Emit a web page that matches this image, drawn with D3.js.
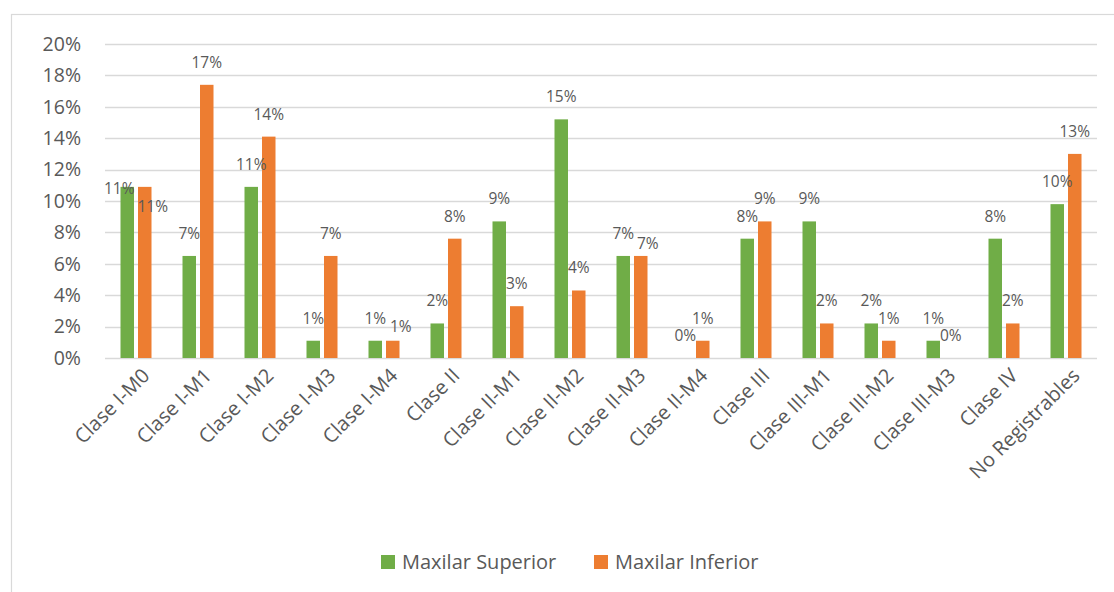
<!DOCTYPE html>
<html>
<head>
<meta charset="utf-8">
<script src="https://cdn.jsdelivr.net/npm/d3@7"></script>
<style>
  html, body { margin: 0; padding: 0; background: #fff; }
  svg { display: block; font-family: "Open Sans", Lato, sans-serif; }
</style>
</head>
<body>
<svg id="chart" width="1114" height="592"></svg>
<script>
const categories = ["Clase I-M0", "Clase I-M1", "Clase I-M2", "Clase I-M3", "Clase I-M4", "Clase II",
  "Clase II-M1", "Clase II-M2", "Clase II-M3", "Clase II-M4", "Clase III", "Clase III-M1",
  "Clase III-M2", "Clase III-M3", "Clase IV", "No Registrables"];
const seriesNames = ["Maxilar Superior", "Maxilar Inferior"];
const superior = [10.9, 6.5, 10.9, 1.1, 1.1, 2.2, 8.7, 15.2, 6.5, 0, 7.6, 8.7, 2.2, 1.1, 7.6, 9.8];
const inferior = [10.9, 17.4, 14.1, 6.5, 1.1, 7.6, 3.3, 4.3, 6.5, 1.1, 8.7, 2.2, 1.1, 0, 2.2, 13.0];
const yTicks = [0, 2, 4, 6, 8, 10, 12, 14, 16, 18, 20];
const colors = ["#70ad47", "#ed7d31"];
// labels that were dragged off their default place in the original
const labelNudge = {
  "Clase I-M0|0": [-8, 24],
  "Clase I-M0|1": [8, 42],
  "Clase I-M4|1": [8, 8],
  "Clase II-M3|1": [7, 10],
};

(function () {
  const svg = d3.select("#chart");
  const textColor = "#595959";
  const gridColor = "#d9d9d9";

  svg.append("rect")
    .attr("x", 11.5).attr("y", 14.5)
    .attr("width", 1120).attr("height", 600)
    .attr("fill", "none").attr("stroke", gridColor).attr("stroke-width", 1.2);

  const x = d3.scaleBand().domain(categories).range([105, 1097]);
  const xInner = d3.scaleBand().domain(seriesNames)
    .range([15.5, x.bandwidth() - 15.5]).paddingInner(0.2286);
  const y = d3.scaleLinear().domain([0, 20]).range([358, 44]);

  const grid = svg.append("g");
  grid.selectAll("line")
    .data(yTicks)
    .join("line")
    .attr("x1", 105).attr("x2", 1097)
    .attr("y1", (d) => Math.round(y(d)) + 0.5)
    .attr("y2", (d) => Math.round(y(d)) + 0.5)
    .attr("stroke", gridColor).attr("stroke-width", 1.3);

  const yAxis = d3.axisLeft(y).tickValues(yTicks).tickFormat((d) => d + "%").tickSize(0).tickPadding(0);
  svg.append("g")
    .attr("transform", "translate(81,0)")
    .call(yAxis)
    .call((g) => g.select(".domain").remove())
    .selectAll("text")
    .attr("fill", textColor)
    .attr("font-size", 19.5)
    .attr("font-family", "'Open Sans', Lato, sans-serif");

  const rows = categories.map((c, i) => ({ cat: c, values: [superior[i], inferior[i]] }));

  const groups = svg.append("g")
    .selectAll("g")
    .data(rows)
    .join("g")
    .attr("transform", (d) => `translate(${x(d.cat)},0)`);

  groups.selectAll("rect")
    .data((d) => d.values.map((v, s) => ({ cat: d.cat, v, s })))
    .join("rect")
    .attr("x", (d) => xInner(seriesNames[d.s]))
    .attr("width", xInner.bandwidth())
    .attr("y", (d) => y(d.v))
    .attr("height", (d) => y(0) - y(d.v))
    .attr("fill", (d) => colors[d.s]);

  groups.selectAll("text")
    .data((d) => d.values.map((v, s) => ({ cat: d.cat, v, s })))
    .join("text")
    .attr("x", (d) => xInner(seriesNames[d.s]) + xInner.bandwidth() / 2 + (labelNudge[d.cat + "|" + d.s] || [0, 0])[0])
    .attr("y", (d) => y(d.v) - 17 + (labelNudge[d.cat + "|" + d.s] || [0, 0])[1])
    .attr("text-anchor", "middle")
    .attr("font-size", 15.5)
    .attr("fill", textColor)
    .text((d) => Math.round(d.v) + "%");

  // category axis, rotated labels
  svg.append("g")
    .selectAll("text")
    .data(categories)
    .join("text")
    .attr("transform", (d) => `translate(${x(d) + x.bandwidth() / 2 + 5},${367}) rotate(-45)`)
    .attr("text-anchor", "end")
    .attr("dy", "0.7em")
    .attr("font-size", 20)
    .attr("fill", textColor)
    .text((d) => d);

  const legend = svg.append("g").attr("transform", "translate(381,555)");
  const item = legend.selectAll("g")
    .data(seriesNames)
    .join("g")
    .attr("transform", (d, i) => `translate(${i * 213},0)`);
  item.append("rect")
    .attr("width", 14).attr("height", 14)
    .attr("fill", (d, i) => colors[i]);
  item.append("text")
    .attr("x", 21).attr("y", 14)
    .attr("font-size", 20)
    .attr("fill", textColor)
    .text((d) => d);
})();
</script>
</body>
</html>
